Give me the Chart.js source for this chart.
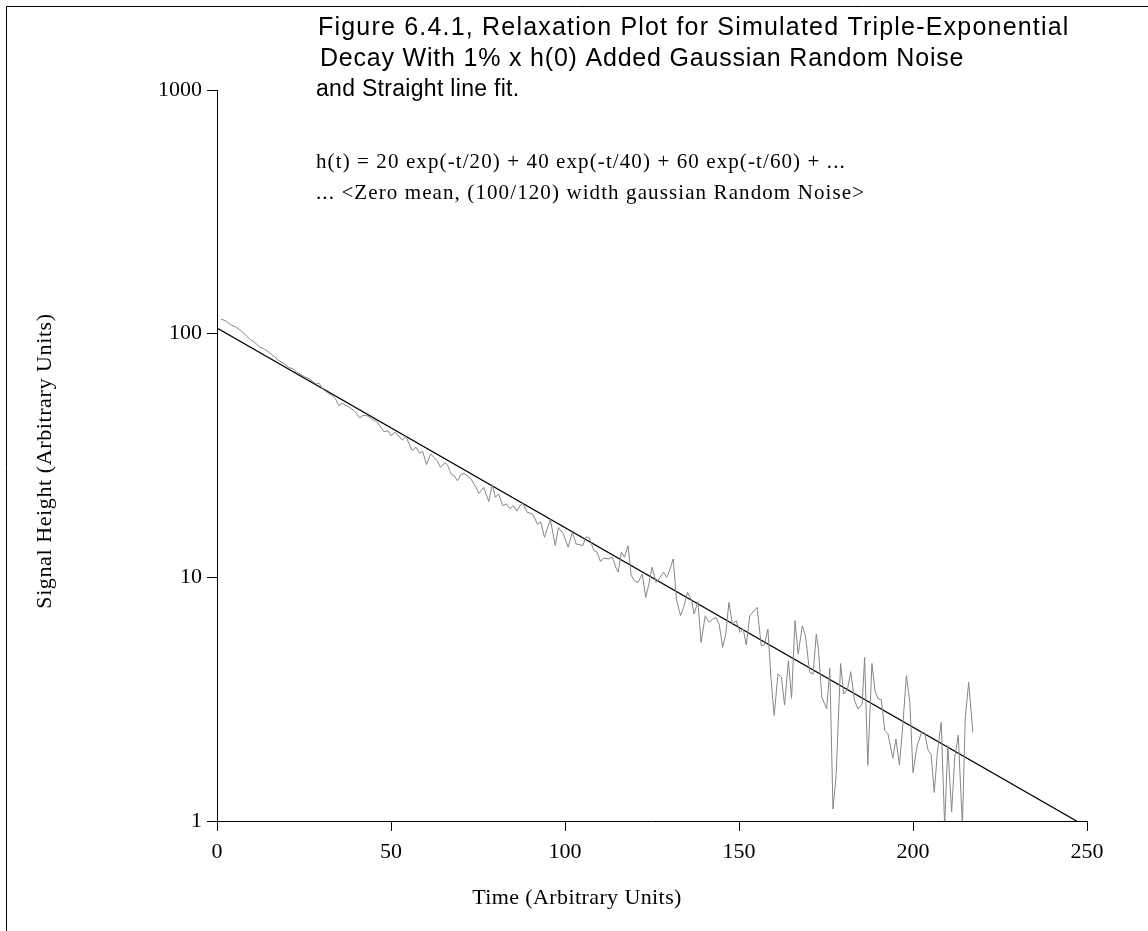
<!DOCTYPE html>
<html lang="en">
<head>
<meta charset="UTF-8">
<title>Relaxation Plot</title>
<script src="https://cdn.jsdelivr.net/npm/chart.js"></script>
<style>
  html, body { margin: 0; padding: 0; background: #fff; }
  #wrap { width: 1148px; height: 931px; }
</style>
</head>
<body>
<div id="wrap"><canvas id="plot" width="1148" height="931"></canvas></div>
<script>
// noisy decay: time and signal height
const sigT = [1.1, 2.5, 3.9, 5.3, 6.6, 8.0, 9.4, 10.8, 12.2, 13.6, 15.0, 16.4, 17.8, 19.2, 20.6, 22.0, 22.9, 23.8, 25.2, 26.6,
  27.5, 28.5, 29.4, 30.3, 31.7, 33.1, 34.0, 35.0, 35.9, 36.8, 38.2, 39.6, 41.0, 41.9, 43.1,
  46.1, 48.0, 49.1, 50.0, 51.2, 52.6, 53.3, 54.3, 56.1, 57.2, 58.2, 59.1, 60.2, 61.4, 62.3, 63.3, 64.2, 65.6, 66.3,
  67.3, 68.2, 69.1, 70.1, 71.0, 71.9, 73.0, 74.4, 75.3, 76.6, 78.1, 79.1, 80.0, 80.9, 82.1, 83.2, 84.2, 85.1, 86.2,
  87.2, 87.9, 89.1, 90.7, 92.1, 93.0, 94.1, 95.8, 97.2, 98.1, 99.5, 100.9, 102.1, 103.2, 105.1, 106.0, 106.9, 108.3,
  109.2, 110.2, 111.1, 112.5, 113.6, 114.8, 115.3, 116.2, 117.1, 118.1, 119.0, 119.9, 121.0, 122.2, 123.2, 124.1,
  125.0, 126.2, 127.4, 128.3, 129.2, 129.7,
  131.1, 132.0, 133.2, 134.1, 135.2, 136.4, 137.1, 138.2, 139.1, 140.3, 141.3, 142.5, 143.4, 144.3, 145.3, 146.2,
  147.1, 148.1, 149.2, 150.3, 151.2, 152.1, 153.1, 155.2, 156.4, 157.3, 158.3, 159.2, 160.1, 161.2, 162.2, 163.1,
  164.2, 165.1, 166.1, 167.0, 168.2, 169.1, 170.3, 171.3, 172.2, 172.8,
  173.8, 175.2, 176.1, 177.0, 177.9, 179.2, 180.1, 181.2, 182.1, 183.2, 184.2, 185.4, 186.1, 187.0, 188.2, 189.1,
  190.0, 190.9, 191.9, 192.8, 194.2, 195.1, 196.1, 197.0, 198.1, 199.1, 200.0, 201.2, 202.4, 203.3, 204.4, 205.2,
  206.1, 207.0, 208.1, 209.1, 210.0, 211.1, 212.0, 213.0, 214.2, 215.0, 216.0, 217.2];
const sigH = [114.8, 113, 108.8, 106.7, 103.5, 99.6, 95.0, 92.1, 88.4, 86.4, 83.8, 80.7, 77.4, 75.5, 72.7, 71.6, 69.4, 68.3, 66.5, 65.1,
  63.7, 62.1, 62.5, 59.3, 57.4, 55.6, 54.2, 50.6, 51.9, 50.9, 49.8, 48.0, 45.1, 46.1, 46.1,
  43.3, 39.6, 40.0, 38.1, 39.4, 37.5, 36.6, 37.8, 33.1, 34.2, 32.3, 32.9, 29.0, 32.1, 31.1, 30.1, 28.3, 29.6, 28.7,
  26.5, 26.1, 24.9, 26.4, 26.7, 26.1, 25.3, 23.4, 22.1, 23.4, 20.5, 24.0, 21.3, 22.0, 19.7, 20.0, 19.1, 19.7, 18.7,
  19.8, 20.1, 18.5, 18.2, 16.5, 16.9, 14.6, 17.3, 13.5, 16.0, 15.1, 13.3, 15.3, 13.7, 13.5, 14.6, 14.6, 12.9,
  12.7, 11.6, 12.0, 11.9, 12.1, 10.8, 10.5, 12.7, 12.1, 13.5, 10.2, 9.69, 9.54, 10.3, 8.28, 9.39,
  11.0, 9.54, 10.0, 10.5, 10.0, 10.3,
  11.9, 8.15, 6.96, 7.53, 8.68, 8.02, 7.07, 7.94, 5.41, 6.96, 6.54, 6.74, 6.85, 6.43, 5.16, 5.85,
  7.89, 6.43, 6.64, 5.95, 6.13, 5.28, 6.96, 7.53, 5.24, 5.28, 6.13, 3.83, 2.71, 4.01, 3.89, 2.99,
  4.55, 3.19, 6.64, 4.84, 6.33, 5.76, 4.08, 4.01, 5.85, 5.1,
  3.22, 2.88, 4.23, 1.12, 1.53, 4.43, 3.32, 3.48, 4.10, 3.12, 2.88, 3.02, 4.69, 1.69, 4.43, 3.42,
  3.17, 3.15, 2.35, 2.28, 1.81, 2.17, 1.70, 2.39, 3.95, 3.07, 1.58, 2.04, 2.30, 2.31, 1.94, 1.88,
  1.31, 1.91, 2.54, 0.95, 2.04, 1.09, 1.82, 2.25, 0.95, 2.62, 3.71, 2.31];

// straight line fit, end points
const fitT = [0, 247];
const fitH = [105.4, 1];

const yTicks = [1, 10, 100, 1000];

const titleLines = [
  'Figure 6.4.1, Relaxation Plot for Simulated Triple-Exponential',
  'Decay With 1% x h(0) Added Gaussian Random Noise',
  'and Straight line fit.'
];
const noteLines = [
  'h(t) = 20 exp(-t/20) + 40 exp(-t/40) + 60 exp(-t/60) + ...',
  '... <Zero mean, (100/120) width gaussian Random Noise>'
];
const xTitle = 'Time (Arbitrary Units)';
const yTitle = 'Signal Height (Arbitrary Units)';

const serif = '"Liberation Serif", "Times New Roman", serif';
const sans = '"Liberation Sans", Arial, sans-serif';

function text(c, s, x, y, font, spacing) {
  c.font = font;
  c.letterSpacing = spacing + 'px';
  c.fillText(s, x, y);
}

// frame, heading, note and axis titles
const decor = {
  id: 'decor',
  afterDraw(chart) {
    const c = chart.ctx;
    c.save();
    c.strokeStyle = '#000';
    c.lineWidth = 1;
    c.beginPath();
    c.moveTo(6.5, 931);
    c.lineTo(6.5, 6.5);
    c.lineTo(1148, 6.5);
    c.stroke();

    c.fillStyle = '#000';
    c.textBaseline = 'middle';
    c.textAlign = 'left';
    const tf = '25px ' + sans;
    text(c, titleLines[0], 318, 28, tf, 1.2);
    text(c, titleLines[1], 320, 59, tf, 0.8);
    text(c, titleLines[2], 316, 90, '23px ' + sans, 0.3);

    const nf = '21px ' + serif;
    text(c, noteLines[0], 316, 162, nf, 1.1);
    text(c, noteLines[1], 316, 193, nf, 1.1);

    const af = '22px ' + serif;
    c.textAlign = 'center';
    text(c, xTitle, 577, 898, af, 0.4);

    c.translate(45, 461);
    c.rotate(-Math.PI / 2);
    text(c, yTitle, 0, 0, af, 0.6);
    c.restore();
  }
};

const toPts = (xs, ys) => xs.map((x, i) => ({ x: x, y: ys[i] }));

new Chart(document.getElementById('plot'), {
  type: 'line',
  data: {
    datasets: [
      {
        label: 'signal',
        data: toPts(sigT, sigH),
        borderColor: '#868686',
        borderWidth: 1,
        pointRadius: 0,
        tension: 0
      },
      {
        label: 'fit',
        data: toPts(fitT, fitH),
        borderColor: '#000',
        borderWidth: 1.3,
        pointRadius: 0
      }
    ]
  },
  options: {
    responsive: false,
    animation: false,
    events: [],
    layout: { padding: { left: 0, top: 90, right: 61, bottom: 0 } },
    plugins: {
      legend: { display: false },
      tooltip: { enabled: false }
    },
    scales: {
      x: {
        type: 'linear',
        min: 0,
        max: 250,
        afterFit: s => { s.height = 110; },
        border: { display: true, color: '#000', width: 1 },
        grid: { drawOnChartArea: false, color: '#000', tickLength: 10 },
        ticks: {
          stepSize: 50,
          padding: 8,
          color: '#000',
          font: { family: serif, size: 22 },
          callback: v => String(v)
        }
      },
      y: {
        type: 'logarithmic',
        min: 1,
        max: 1000,
        afterFit: s => { s.width = 217; },
        afterBuildTicks: s => { s.ticks = yTicks.map(v => ({ value: v })); },
        border: { display: true, color: '#000', width: 1 },
        grid: { drawOnChartArea: false, color: '#000', tickLength: 10 },
        ticks: {
          padding: 5,
          color: '#000',
          font: { family: serif, size: 22 },
          callback: v => String(v)
        }
      }
    }
  },
  plugins: [decor]
});
</script>
</body>
</html>
